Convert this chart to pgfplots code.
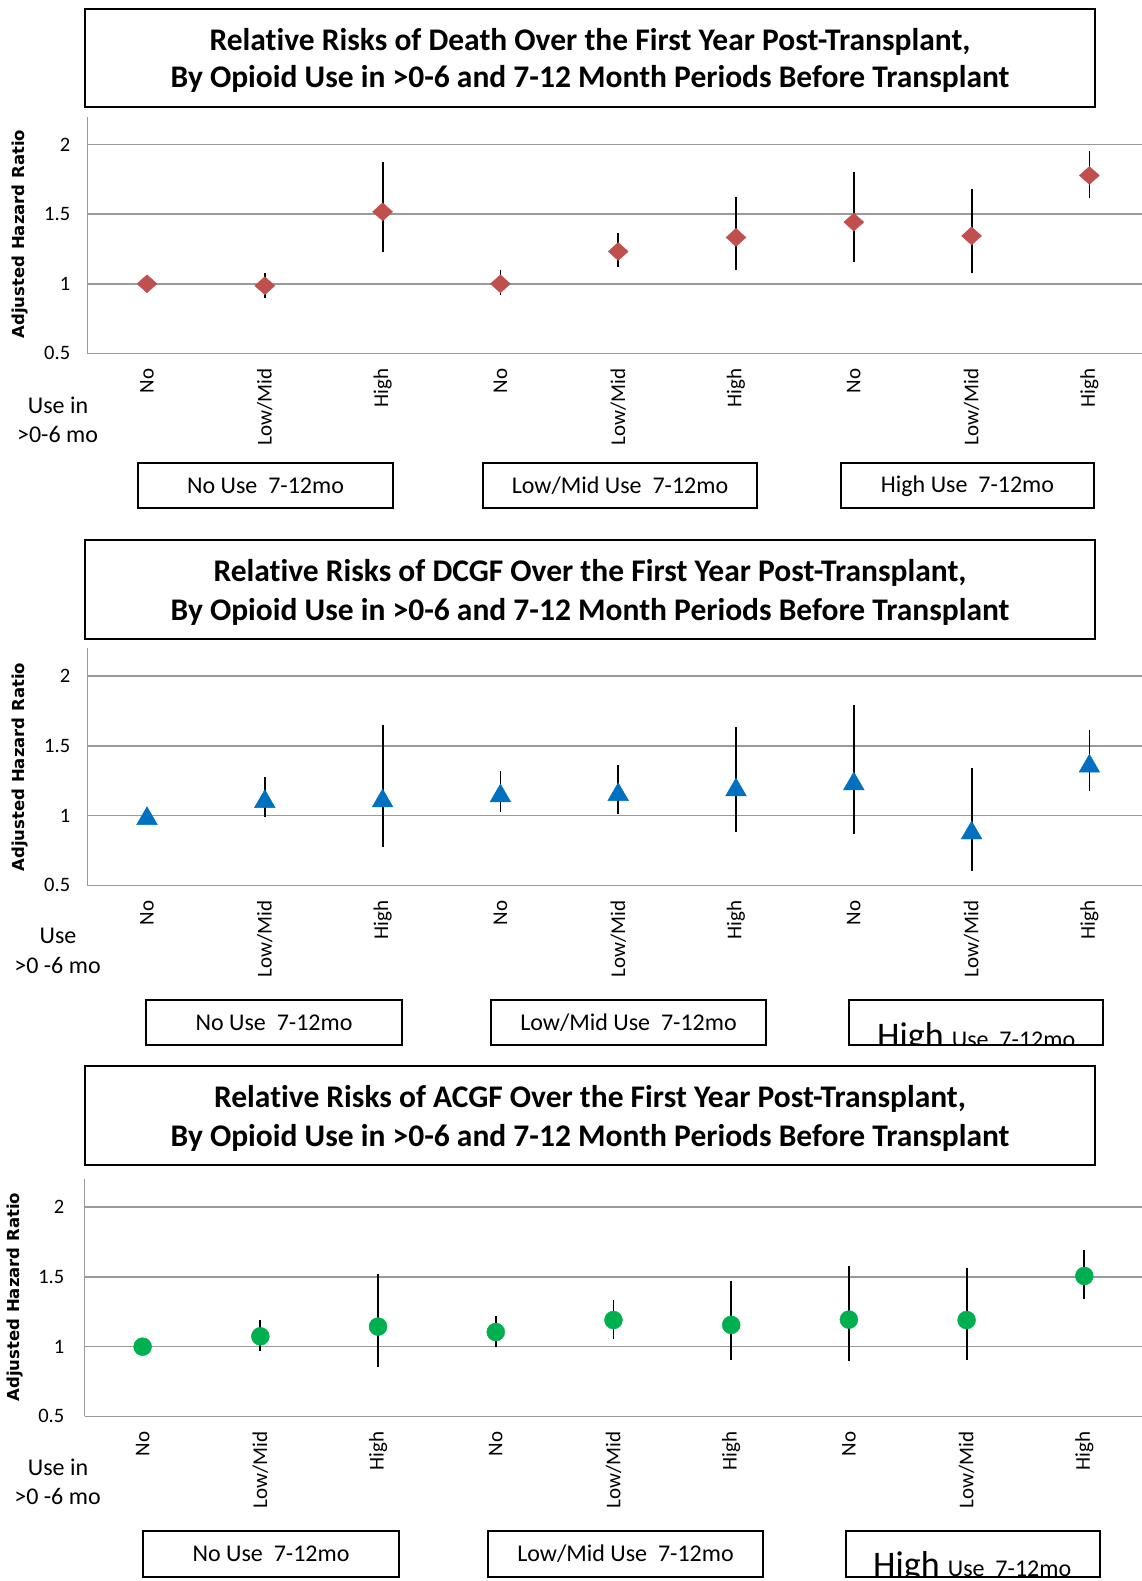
\documentclass[border=0pt]{standalone}
\usepackage{pgfplots}
\pgfplotsset{compat=1.18}
\usepackage{pgfplotstable}
\usepackage{fontspec}
\setmainfont{Carlito}[Ligatures=NoCommon]
\newfontfamily\dvs{DejaVu Sans}
\definecolor{dred}{HTML}{C0504D}
\definecolor{dblue}{HTML}{0070C0}
\definecolor{dgreen}{HTML}{00B050}
\definecolor{gridgray}{HTML}{9A9A9A}
\newcommand{\fs}[1]{\fontsize{#1}{#1}\selectfont}

\pgfplotstableread{
x y lo hi
0 1.000 1.000 1.000
1 0.986 0.900 1.074
2 1.517 1.230 1.876
3 1.000 0.920 1.096
4 1.232 1.117 1.364
5 1.333 1.096 1.620
6 1.443 1.153 1.800
7 1.344 1.074 1.680
8 1.778 1.615 1.957
}\death

\pgfplotstableread{
x y lo hi
0 1.000 1.000 1.000
1 1.122 0.993 1.280
2 1.127 0.773 1.648
3 1.163 1.029 1.318
4 1.172 1.010 1.364
5 1.206 0.885 1.639
6 1.249 0.868 1.797
7 0.897 0.600 1.344
8 1.376 1.179 1.615
}\dcgf

\pgfplotstableread{
x y lo hi
0 1.000 1.000 1.000
1 1.074 0.971 1.189
2 1.144 0.856 1.522
3 1.105 1.000 1.220
4 1.191 1.057 1.335
5 1.156 0.904 1.474
6 1.194 0.897 1.579
7 1.191 0.904 1.565
8 1.507 1.340 1.694
}\acgf

\pgfplotsset{
  forest/.style={
    scale only axis, anchor=north west,
    ymin=0.5, ymax=2.2,
    axis x line*=bottom, axis y line*=left,
    axis line style={gridgray, line width=1.6pt, -},
    ytick={0.5,1,1.5,2}, yticklabels={0.5,1,1.5,2},
    ymajorgrids, grid style={gridgray, line width=1.6pt},
    major tick length=0pt,
    xtick={0,...,8},
    xticklabels={No,Low/Mid,High,No,Low/Mid,High,No,Low/Mid,High},
    xticklabel style={rotate=90, anchor=east, inner sep=0pt, font=\fs{21}},
    xticklabel shift=15pt,
    yticklabel style={anchor=east, inner sep=0pt, font=\fs{20.5}},
    yticklabel shift=17pt,
    clip=false,
  },
  ebar/.style={error bars/.cd, y dir=both, y explicit, error mark=none,
    error bar style={black, line width=1.8pt}},
}

\begin{document}
\begin{tikzpicture}
% ---------- axes ----------
\begin{axis}[forest, at={(87.4pt,-116.7pt)}, width=1054.6pt, height=236.7pt, xmin=-0.506, xmax=8.446]
\addplot[only marks, mark=diamond*, mark size=9pt, mark options={fill=dred, draw=dred, xscale=1.48}, ebar]
  table[x=x, y=y, y error plus expr=\thisrow{hi}-\thisrow{y}, y error minus expr=\thisrow{y}-\thisrow{lo}] {\death};
\end{axis}
\begin{axis}[forest, at={(87.4pt,-648.3pt)}, width=1054.6pt, height=237.1pt, xmin=-0.506, xmax=8.446]
\addplot[only marks, mark=triangle*, mark size=12pt, mark options={fill=dblue, draw=dblue, yshift=-3pt}, ebar]
  table[x=x, y=y, y error plus expr=\thisrow{hi}-\thisrow{y}, y error minus expr=\thisrow{y}-\thisrow{lo}] {\dcgf};
\end{axis}
\begin{axis}[forest, at={(84.5pt,-1179.3pt)}, width=1057.5pt, height=237.1pt, xmin=-0.494, xmax=8.49, yticklabel shift=20pt]
\addplot[only marks, mark=*, mark size=9pt, mark options={fill=dgreen, draw=dgreen}, ebar]
  table[x=x, y=y, y error plus expr=\thisrow{hi}-\thisrow{y}, y error minus expr=\thisrow{y}-\thisrow{lo}] {\acgf};
\end{axis}

\begin{scope}[x=1pt,y=-1pt]
% ---------- Panel 1 ----------
\draw[line width=1.5pt] (85,9) rectangle (1095,107);
\node[font=\bfseries\fs{31.5}] at (590,41.5) {Relative Risks of Death Over the First Year Post-Transplant,};
\node[font=\bfseries\fs{31.5}] at (590,79) {By Opioid Use in >0-6 and 7-12 Month Periods Before Transplant};
\node[rotate=90, font=\dvs\bfseries\fs{16.5}] at (20,234) {Adjusted Hazard Ratio};
\node[font=\fs{24}] at (58,405) {Use in};
\node[font=\fs{24}] at (57.5,434.5) {>0-6 mo};
\draw[line width=1.5pt] (138,463) rectangle (393,508);
\draw[line width=1.5pt] (483,463) rectangle (757,508);
\draw[line width=1.5pt] (841,463) rectangle (1094,508);
\node[font=\fs{24}] at (265.5,486) {No Use\ \ 7-12mo};
\node[font=\fs{24}] at (620,486) {Low/Mid Use\ \ 7-12mo};
\node[font=\fs{24}] at (967.5,486) {High Use\ \ 7-12mo};

% ---------- Panel 2 ----------
\draw[line width=1.5pt] (85,540) rectangle (1095,639);
\node[font=\bfseries\fs{31.5}] at (590,573) {Relative Risks of DCGF Over the First Year Post-Transplant,};
\node[font=\bfseries\fs{31.5}] at (590,611.5) {By Opioid Use in >0-6 and 7-12 Month Periods Before Transplant};
\node[rotate=90, font=\dvs\bfseries\fs{16.5}] at (20,767) {Adjusted Hazard Ratio};
\node[font=\fs{24}] at (58,936) {Use};
\node[font=\fs{24}] at (57.5,965.6) {>0 -6 mo};
\draw[line width=1.5pt] (146,1000) rectangle (402,1045);
\draw[line width=1.5pt] (491,1000) rectangle (766,1045);
\node[font=\fs{24}] at (274,1023) {No Use\ \ 7-12mo};
\node[font=\fs{24}] at (628.5,1023) {Low/Mid Use\ \ 7-12mo};
\begin{scope}
\clip (849,1000) rectangle (1103,1045);
\node[anchor=base west, inner sep=0pt] at (877,1047) {\fs{36}High \fs{24}Use\ \ 7-12mo};
\end{scope}
\draw[line width=1.5pt] (849,1000) rectangle (1103,1045);

% ---------- Panel 3 ----------
\draw[line width=1.5pt] (85,1066) rectangle (1095,1165);
\node[font=\bfseries\fs{31.5}] at (590,1099.2) {Relative Risks of ACGF Over the First Year Post-Transplant,};
\node[font=\bfseries\fs{31.5}] at (590,1137.5) {By Opioid Use in >0-6 and 7-12 Month Periods Before Transplant};
\node[rotate=90, font=\dvs\bfseries\fs{16.5}] at (15,1297) {Adjusted Hazard Ratio};
\node[font=\fs{24}] at (58,1467.6) {Use in};
\node[font=\fs{24}] at (57.5,1496.8) {>0 -6 mo};
\draw[line width=1.5pt] (143,1531) rectangle (399,1577);
\draw[line width=1.5pt] (488,1531) rectangle (763,1577);
\node[font=\fs{24}] at (271,1554) {No Use\ \ 7-12mo};
\node[font=\fs{24}] at (625.5,1554) {Low/Mid Use\ \ 7-12mo};
\begin{scope}
\clip (846,1531) rectangle (1100,1577);
\node[anchor=base west, inner sep=0pt] at (873,1576) {\fs{36}High \fs{24}Use\ \ 7-12mo};
\end{scope}
\draw[line width=1.5pt] (846,1531) rectangle (1100,1577);
\end{scope}

\pgfresetboundingbox
\path[use as bounding box] (0pt,0pt) rectangle (1142pt,-1581pt);
\end{tikzpicture}
\end{document}
